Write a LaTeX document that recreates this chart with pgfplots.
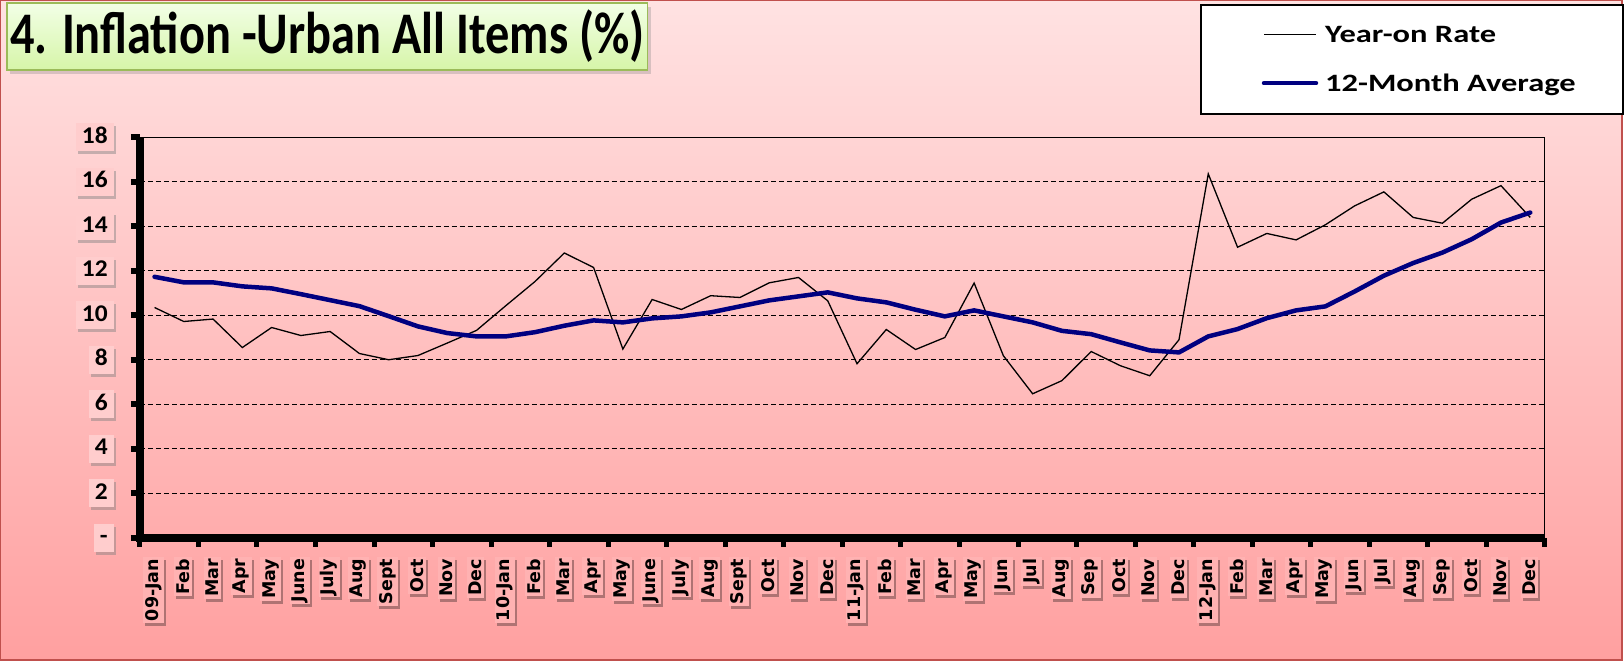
\documentclass[border=0pt]{standalone}
\usepackage{pgfplots}
\pgfplotsset{compat=1.18}
\usepackage{fontspec}
\setmainfont{Carlito}
\newfontfamily\titlefont[FakeStretch=0.82]{Carlito}
\newfontfamily\legfont[FakeStretch=1.3]{Carlito}
\newfontfamily\yfont[FakeStretch=1.06]{Carlito}
\newfontfamily\xfont{DejaVu Sans}
\usetikzlibrary{shadows}
\definecolor{navyline}{RGB}{0,0,128}
\definecolor{bgtop}{RGB}{255,226,226}
\definecolor{bgbot}{RGB}{255,160,160}
\definecolor{frame}{RGB}{192,80,77}
\definecolor{ttop}{RGB}{242,255,230}
\definecolor{tbot}{RGB}{214,245,168}
\definecolor{tborder}{RGB}{155,187,89}
\definecolor{ylblbg}{RGB}{255,205,205}
\definecolor{xlblbg}{RGB}{255,178,178}
\definecolor{xshadow}{RGB}{175,115,115}

\pgfplotstableread{
x y
0 10.35
1 9.72
2 9.83
3 8.55
4 9.45
5 9.09
6 9.27
7 8.28
8 8.00
9 8.19
10 8.75
11 9.32
12 10.43
13 11.52
14 12.80
15 12.15
16 8.48
17 10.71
18 10.26
19 10.88
20 10.80
21 11.46
22 11.70
23 10.65
24 7.82
25 9.36
26 8.46
27 9.00
28 11.45
29 8.18
30 6.47
31 7.06
32 8.37
33 7.73
34 7.28
35 8.90
36 16.36
37 13.06
38 13.68
39 13.39
40 14.07
41 14.92
42 15.55
43 14.40
44 14.14
45 15.22
46 15.83
47 14.40
}\yoy

\pgfplotstableread{
x y
0 11.73
1 11.48
2 11.48
3 11.30
4 11.21
5 10.95
6 10.68
7 10.41
8 9.96
9 9.50
10 9.20
11 9.05
12 9.05
13 9.24
14 9.53
15 9.77
16 9.68
17 9.86
18 9.95
19 10.13
20 10.40
21 10.67
22 10.85
23 11.03
24 10.76
25 10.58
26 10.25
27 9.95
28 10.22
29 9.95
30 9.68
31 9.30
32 9.15
33 8.78
34 8.42
35 8.33
36 9.05
37 9.38
38 9.87
39 10.22
40 10.40
41 11.07
42 11.78
43 12.35
44 12.82
45 13.42
46 14.17
47 14.62
}\avg

\newcommand{\legtext}[1]{\makebox[237pt][l]{#1}}
\newcommand{\lbl}[1]{{\setlength{\fboxsep}{2pt}\rlap{\kern-3pt\raisebox{-2pt}{\colorbox{xshadow}{\phantom{#1}}}}\colorbox{xlblbg}{#1}\hspace*{10pt}}}

\begin{document}
\begin{tikzpicture}[x=1pt,y=1pt]
\shade[top color=bgtop, bottom color=bgbot] (0,0) rectangle (1624,661);
\draw[frame, line width=1.5pt] (0.75,0.75) rectangle (1623.25,660.25);
\node[draw=tborder, line width=1.5pt, top color=ttop, bottom color=tbot,
      minimum width=641pt, minimum height=67pt, inner sep=0pt,
      drop shadow={shadow xshift=3pt, shadow yshift=-4pt, opacity=0.3},
      font=\titlefont\bfseries\fontsize{59}{60}\selectfont]
      at (327.5,624.5) {4. Inflation -Urban All Items (\%)};
\begin{axis}[
  at={(140pt,123pt)}, anchor=south west,
  scale only axis, width=1406pt, height=400.5pt,
  xmin=-0.5, xmax=47.5, ymin=0, ymax=18,
  clip=false,
  axis line style={black, line width=1pt},
  tick pos=left,
  tick align=outside,
  major tick length=9pt,
  minor tick length=9pt,
  xtick={0,...,47},
  major x tick style={draw=none},
  minor xtick={-0.5,1.5,...,47.5},
  minor x tick style={line width=5pt, black},
  xticklabels={\lbl{09-Jan},\lbl{Feb},\lbl{Mar},\lbl{Apr},\lbl{May},\lbl{June},\lbl{July},\lbl{Aug},\lbl{Sept},\lbl{Oct},\lbl{Nov},\lbl{Dec},
    \lbl{10-Jan},\lbl{Feb},\lbl{Mar},\lbl{Apr},\lbl{May},\lbl{June},\lbl{July},\lbl{Aug},\lbl{Sept},\lbl{Oct},\lbl{Nov},\lbl{Dec},
    \lbl{11-Jan},\lbl{Feb},\lbl{Mar},\lbl{Apr},\lbl{May},\lbl{Jun},\lbl{Jul},\lbl{Aug},\lbl{Sep},\lbl{Oct},\lbl{Nov},\lbl{Dec},
    \lbl{12-Jan},\lbl{Feb},\lbl{Mar},\lbl{Apr},\lbl{May},\lbl{Jun},\lbl{Jul},\lbl{Aug},\lbl{Sep},\lbl{Oct},\lbl{Nov},\lbl{Dec}},
  xticklabel style={rotate=90, anchor=east, font=\xfont\bfseries\fontsize{17.5}{18}\selectfont,
    inner sep=0pt},
  ytick={0,2,...,18},
  yticklabels={-,2,4,6,8,10,12,14,16,18},
  ytick style={line width=6pt, black},
  yticklabel style={anchor=east, xshift=-17pt, font=\yfont\bfseries\fontsize{24}{24}\selectfont,
    fill=ylblbg, inner xsep=6pt, inner ysep=5pt, text height=15pt, text depth=3pt,
    drop shadow={shadow xshift=2pt, shadow yshift=-3pt, opacity=0.45}},
  ymajorgrids,
  grid style={black, line width=1.2pt, dash pattern=on 5pt off 3pt},
  legend style={at={(0.7544,1.3333)}, anchor=north west, draw=black, line width=2pt,
    fill=white, font=\legfont\bfseries\fontsize{25}{25}\selectfont,
    nodes={inner sep=0pt},
    inner xsep=61pt, inner ysep=21pt, row sep=30pt},
  legend cell align=left,
  legend image code/.code={\draw[#1] (0pt,0pt) -- (52pt,0pt);},
  /tikz/every odd column/.append style={column sep=7pt},
]
\addplot[black, line width=1.3pt] table[x=x,y=y] {\yoy};
\addlegendentry{\legtext{Year-on Rate}}
\addplot[navyline, line width=4.5pt, line join=round, line cap=round] table[x=x,y=y] {\avg};
\addlegendentry{\legtext{12-Month Average}}
\draw[black, line width=8pt, line join=miter] (rel axis cs:0,1) -- (rel axis cs:0,0) -- (rel axis cs:1,0);
\end{axis}
\end{tikzpicture}
\end{document}
